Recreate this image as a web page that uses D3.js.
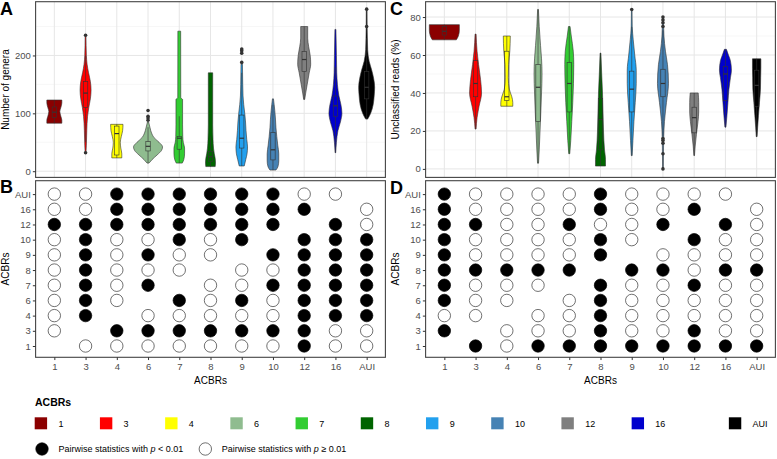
<!DOCTYPE html>
<html><head><meta charset="utf-8">
<script src="https://cdn.jsdelivr.net/npm/d3@7"></script>
<style>body{margin:0;background:#fff}svg{display:block}text{font-family:"Liberation Sans",Arial,sans-serif}</style>
</head><body><svg id="c" width="777" height="459"></svg>
<script>
// ---------------- data ----------------
const categories = ["1","3","4","6","7","8","9","10","12","16","AUI"];
const colors = ["#8B0000","#FF0000","#FFFF00","#8FBC8F","#32CD32","#006400","#22A0EE","#4682B4","#7F7F7F","#0000CD","#000000"];
const matrixRows = ["AUI","16","12","10","9","8","7","6","4","3","1"];
const ticksA = [0,100,200];
const minorA = [50,150,250];
const ticksC = [0,20,40,60,80];
const minorC = [10,30,50,70];

// violin profiles, panel A: [number of genera, relative half-width]
const violinA = [
  [[83,7.5],[88,7.5],[95,6.5],[103,5.5],[110,6.5],[118,7.5],[123,7.5]],
  [[32,0.4],[45,0.8],[70,1.2],[95,2],[110,3.2],[125,4.8],[140,5.5],[155,4.8],[170,3],[185,1.5],[200,0.8],[235,0.4]],
  [[23,5],[30,5],[40,4],[50,3.5],[60,4.5],[70,5.8],[81,6.2]],
  [[14,1],[20,4],[28,9],[36,13.5],[42,14.5],[50,11],[58,6],[66,3.5],[75,2],[85,0.6]],
  [[14,3],[20,4.5],[30,5.3],[40,5.3],[50,4],[60,3.5],[80,3.3],[100,3.3],[124,3.3],[127,1.5],[242,1.4]],
  [[8,4.7],[14,5],[22,4.7],[30,3.8],[40,3],[55,2.5],[80,2.2],[120,2.2],[170,2.2]],
  [[9,2.5],[20,4],[30,5.3],[42,5.8],[55,5],[70,4.3],[85,3.8],[100,3],[115,2],[130,1.3],[150,1],[185,0.7]],
  [[2,3],[8,5],[18,5.8],[30,5.8],[45,4.8],[60,3.8],[75,3],[90,2.5],[105,1.8],[115,1.2],[125,0.5]],
  [[124,0.5],[135,1.5],[150,3],[170,5],[185,6.5],[200,6],[215,4.5],[230,3.5],[250,3.5]],
  [[32,0.3],[50,1],[70,2.5],[85,5],[100,6.5],[115,5.5],[130,3.5],[150,2],[170,1.3],[200,1],[245,0.5]],
  [[90,1],[100,4],[115,6.5],[130,7.5],[145,8],[160,7],[175,5],[190,2.5],[210,1],[230,0.7],[250,0.5],[280,0.4]]
];
// box stats, panel A: [lower whisker, q1, median, q3, upper whisker]
const boxA = [
  [83,93,102,111,123],[50,110,135,155,200],[23,28,65,78,81],[14,35,43,51,76],
  [14,38,57,60,95],[8,17,25,34,60],[9,40,57,97,170],[2,19.5,37,67,115],
  [124,172,193,207,250],[32,95,113,130,180],[90,125,145,172,230]
];
const outliersA = [[],[235,32],[],[88,92,95,105],[],[],[188,204,208,211],[],[],[],[250,280]];

// violin profiles, panel C: [unclassified reads %, relative half-width]
const violinC = [
  [[68,12],[70,14],[73,15],[76,15]],
  [[21,0.5],[27,1.5],[33,3.5],[40,6],[47,5],[55,3],[62,1.5],[71,0.5]],
  [[33,6],[35,6],[38,5],[42,2.5],[48,1.5],[55,1.8],[62,3],[70,3.5]],
  [[3,0.5],[10,1.2],[20,2],[30,2.8],[40,3.5],[50,4],[58,3.5],[65,2.5],[75,1.2],[84,0.4]],
  [[8,0.5],[15,1.5],[25,2.5],[35,3.5],[45,4.2],[55,4.5],[62,4],[70,2],[75,0.8]],
  [[1.5,5],[5,5],[10,4],[20,3],[30,2.5],[40,2],[50,1.2],[61,0.4]],
  [[7,0.4],[15,1.2],[25,2.2],[35,3.5],[45,4.5],[52,4.5],[60,3],[68,1.5],[75,0.5],[84,0.3]],
  [[0,0.4],[8,0.5],[16,0.7],[25,1.5],[35,3.5],[45,5.5],[55,4.5],[62,2.5],[70,1],[80,0.5]],
  [[7,0.3],[12,1],[18,2.2],[25,3.8],[30,4.5],[35,4.5],[40,4]],
  [[22,0.5],[28,1.5],[35,2.5],[42,3.5],[48,5],[52,6],[57,5],[60,3],[63,1]],
  [[17,0.4],[22,1],[28,1.8],[35,2.8],[42,3.8],[48,4],[53,4.2],[58,4.2]]
];
const boxC = [
  [68,70.5,72.5,75,76],[21,38,45,57,71],[33,36,38,62,70],[3,25,43,55,84],
  [8,30,45,56,75],[1.5,10,26,37,61],[7,30,42,51.5,75],[17,38,45,52.5,73],
  [7,19,27,32.5,40],[22,36,50,54,63],[17,33,44,52,58]
];
const outliersC = [[],[],[],[],[],[],[84],[0,8,13.5,15,16,75,77,78.5,80],[],[],[]];

// pairwise significance, rows = matrixRows, columns = categories ("1" p<0.01, "0" p>=0.01, "-" none)
const sigB = ["0011111100-","001111111-0","11111111-10","0100101-111","010100-1111",
              "01000-00111","0101-001111","010-1010111","01-00000111","0-111111100","-0000000100"];
const sigD = ["1000010000-","100001001-0","11001001-10","1000010-100","100001-0000",
              "11111-11011","1000-100100","100-0100000","00-00100000","1-000100100","-1011111111"];

// ---------------- layout ----------------
const svg = d3.select("#c");
const tickCol = "#4D4D4D", frame = "#444", ink = "#333";
const panels = {
  A:{x0:35.6,x1:385.4,y0:1.7,y1:177.4},
  C:{x0:425.6,x1:775.4,y0:1.7,y1:177.4},
  B:{x0:35.6,x1:385.4,y0:180.7,y1:357.3},
  D:{x0:425.6,x1:775.4,y0:180.7,y1:357.3}
};
function xScale(p){
  const step=(p.x1-p.x0)/11.2;
  return d3.scalePoint().domain(categories).range([p.x0+0.6*step,p.x1-0.6*step]);
}
const yA = d3.scaleLinear().domain([-10.7,292.9]).range([panels.A.y1,panels.A.y0]);
const yC = d3.scaleLinear().domain([-4.48,88.08]).range([panels.C.y1,panels.C.y0]);

function violinPanel(p,y,ticks,minor,violins,boxes,outs,title){
  const x=xScale(p), step=x.step();
  const w=d3.scaleLinear().domain([0,15.6]).range([0,step/2]);
  const g=svg.append("g");
  g.append("rect").attr("x",p.x0).attr("y",p.y0).attr("width",p.x1-p.x0).attr("height",p.y1-p.y0).attr("fill","#fff");
  g.selectAll(".mn").data(minor).join("line").attr("x1",p.x0).attr("x2",p.x1)
    .attr("y1",d=>y(d)).attr("y2",d=>y(d)).attr("stroke","#F2F2F2").attr("stroke-width",0.6);
  g.selectAll(".mj").data(ticks).join("line").attr("x1",p.x0).attr("x2",p.x1)
    .attr("y1",d=>y(d)).attr("y2",d=>y(d)).attr("stroke","#E6E6E6").attr("stroke-width",1);
  g.selectAll(".vx").data(categories).join("line").attr("y1",p.y0).attr("y2",p.y1)
    .attr("x1",d=>x(d)).attr("x2",d=>x(d)).attr("stroke","#E6E6E6").attr("stroke-width",1);
  categories.forEach((c,i)=>{
    const cx=x(c);
    const area=d3.area().curve(d3.curveMonotoneY).y(d=>y(d[0])).x0(d=>cx-w(d[1])).x1(d=>cx+w(d[1]));
    g.append("path").attr("d",area(violins[i])).attr("fill",colors[i]).attr("stroke",ink).attr("stroke-width",0.6);
    const b=boxes[i], bw=2.2;
    g.append("line").attr("x1",cx).attr("x2",cx).attr("y1",y(b[0])).attr("y2",y(b[1])).attr("stroke",ink).attr("stroke-width",0.6);
    g.append("line").attr("x1",cx).attr("x2",cx).attr("y1",y(b[3])).attr("y2",y(b[4])).attr("stroke",ink).attr("stroke-width",0.6);
    g.append("rect").attr("x",cx-bw).attr("width",2*bw).attr("y",y(b[3])).attr("height",y(b[1])-y(b[3]))
      .attr("fill","none").attr("stroke",ink).attr("stroke-width",0.6);
    g.append("line").attr("x1",cx-bw).attr("x2",cx+bw).attr("y1",y(b[2])).attr("y2",y(b[2])).attr("stroke",ink).attr("stroke-width",1.2);
    g.selectAll(null).data(outs[i]).join("circle").attr("cx",cx).attr("cy",d=>y(d)).attr("r",1.8).attr("fill",ink);
  });
  g.append("rect").attr("x",p.x0).attr("y",p.y0).attr("width",p.x1-p.x0).attr("height",p.y1-p.y0)
    .attr("fill","none").attr("stroke",frame).attr("stroke-width",1.1);
  const ax=g.append("g").attr("transform",`translate(${p.x0},0)`)
    .call(d3.axisLeft(y).tickValues(ticks).tickSize(2.75).tickPadding(2));
  ax.select(".domain").remove();
  ax.selectAll("line").attr("stroke",ink);
  ax.selectAll("text").attr("fill",tickCol).style("font-size","9.5px").style("font-family","Liberation Sans, Arial, sans-serif");
  svg.append("text").attr("transform",`translate(${p.x0-26.6},${(p.y0+p.y1)/2}) rotate(-90)`)
    .attr("text-anchor","middle").style("font-size","10px").attr("fill","#000").text(title);
}

function matrixPanel(p,sig){
  const x=xScale(p);
  const y=d3.scalePoint().domain(matrixRows).range([194.1,346]);
  const g=svg.append("g");
  g.append("rect").attr("x",p.x0).attr("y",p.y0).attr("width",p.x1-p.x0).attr("height",p.y1-p.y0)
    .attr("fill","#fff").attr("stroke",frame).attr("stroke-width",1.1);
  const cells=[];
  matrixRows.forEach((r,ri)=>categories.forEach((c,ci)=>{
    const v=sig[ri][ci]; if(v!=="-") cells.push({r,c,v});
  }));
  g.selectAll("circle").data(cells).join("circle").attr("cx",d=>x(d.c)).attr("cy",d=>y(d.r)).attr("r",6.2)
    .attr("fill",d=>d.v==="1"?"#000":"#fff").attr("stroke",d=>d.v==="1"?"#000":ink).attr("stroke-width",0.7);
  const ay=g.append("g").attr("transform",`translate(${p.x0},0)`).call(d3.axisLeft(y).tickSize(2.75).tickPadding(2));
  const axb=g.append("g").attr("transform",`translate(0,${p.y1})`).call(d3.axisBottom(x).tickSize(2.75).tickPadding(3.5));
  [ay,axb].forEach(a=>{a.select(".domain").remove();a.selectAll("line").attr("stroke",ink);
    a.selectAll("text").attr("fill",tickCol).style("font-size","9.5px").style("font-family","Liberation Sans, Arial, sans-serif");});
  svg.append("text").attr("x",(p.x0+p.x1)/2).attr("y",383.8).attr("text-anchor","middle").style("font-size","10px").text("ACBRs");
  svg.append("text").attr("transform",`translate(${p.x0-26.6},${(p.y0+p.y1)/2}) rotate(-90)`)
    .attr("text-anchor","middle").style("font-size","10px").text("ACBRs");
}

violinPanel(panels.A,yA,ticksA,minorA,violinA,boxA,outliersA,"Number of genera");
violinPanel(panels.C,yC,ticksC,minorC,violinC,boxC,outliersC,"Unclassified reads (%)");
matrixPanel(panels.B,sigB);
matrixPanel(panels.D,sigD);

// panel letters
[["A",0,15],["B",0,193],["C",390,15],["D",390,193.5]].forEach(([t,x,y])=>
  svg.append("text").attr("x",x).attr("y",y).style("font-size","18px").style("font-weight","bold").text(t));

// legend
svg.append("text").attr("x",35).attr("y",405.7).style("font-size","10.5px").style("font-weight","bold").text("ACBRs");
let lx=34.7;
categories.forEach((c,i)=>{
  if(c==="AUI") lx+=27;
  svg.append("rect").attr("x",lx).attr("y",417.3).attr("width",12.4).attr("height",12).attr("fill",colors[i]);
  const t=svg.append("text").attr("x",lx+23.7).attr("y",426.6).style("font-size","9px").attr("fill","#000").text(c);
  lx=lx+23.7+t.node().getComputedTextLength()+36.5;
});
const sigLegend=[{fill:"#000",op:"<"},{fill:"#fff",op:"\u2265"}];
let sx=42;
sigLegend.forEach(s=>{
  svg.append("circle").attr("cx",sx).attr("cy",449).attr("r",6.2).attr("fill",s.fill).attr("stroke",s.fill==="#000"?"#000":ink).attr("stroke-width",0.7);
  const t=svg.append("text").attr("x",sx+16.5).attr("y",452.2).style("font-size","9px");
  t.append("tspan").text("Pairwise statistics with ");
  t.append("tspan").style("font-style","italic").text("p");
  t.append("tspan").text(" "+s.op+" 0.01");
  sx=sx+16.5+t.node().getComputedTextLength()+22;
});
</script></body></html>
